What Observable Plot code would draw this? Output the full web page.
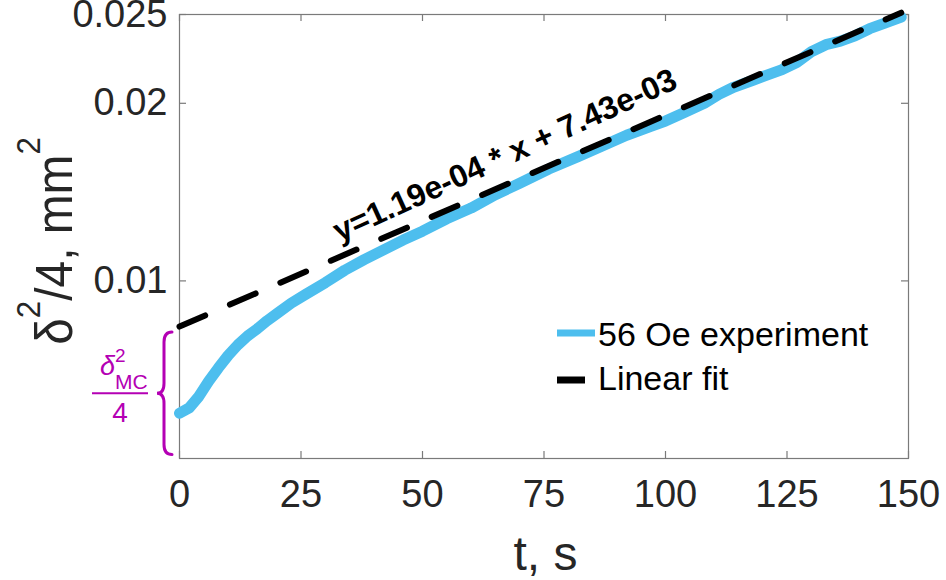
<!DOCTYPE html>
<html>
<head>
<meta charset="utf-8">
<script src="https://cdn.jsdelivr.net/npm/d3@7"></script>
<script src="https://cdn.jsdelivr.net/npm/@observablehq/plot@0.6"></script>
<style>
  html, body { margin: 0; padding: 0; background: #fff; }
</style>
</head>
<body>
<div id="chart"></div>
<script>
// ---- data ----
const tSeconds = [0, 2, 4, 6, 8, 10, 12, 14, 16, 18, 20, 23, 26, 30, 34, 38, 42, 46, 50, 55, 60, 65, 70, 76, 82, 87, 92, 97, 100, 104, 108, 111, 114, 118, 121, 124, 127, 130, 133, 136, 139, 142, 145, 148.5];
const delta2Over4 = [0.00255, 0.00285, 0.0035, 0.00435, 0.0051, 0.0058, 0.0064, 0.0069, 0.0073, 0.00775, 0.00815, 0.00875, 0.00925, 0.0099, 0.0106, 0.0112, 0.01175, 0.0123, 0.0128, 0.0135, 0.0141, 0.01485, 0.0155, 0.0163, 0.0170, 0.0176, 0.0182, 0.0187, 0.0190, 0.0195, 0.0200, 0.0205, 0.0209, 0.0213, 0.0216, 0.0219, 0.0223, 0.0229, 0.0233, 0.0235, 0.0238, 0.0242, 0.0245, 0.02485];
const fitSlope = 1.19e-4;
const fitIntercept = 7.43e-3;
const fitTRange = [0, 148.5];
const xTicks = [0, 25, 50, 75, 100, 125, 150];
const yTicks = [0.01, 0.02, 0.025];
const seriesNames = ["56 Oe experiment", "Linear fit"];
const fitLabel = "y=1.19e-04 * x + 7.43e-03";
const fitLabelT = 32;
const braceRange = [0.0002, 0.0071]; // extent of the δ²MC/4 brace

// ---- derived tables ----
const expData = tSeconds.map((t, i) => ({t, v: delta2Over4[i]}));
const fitData = fitTRange.map(t => ({t, v: fitSlope * t + fitIntercept}));

// ---- layout / style ----
const W = 946, H = 580;
const ML = 179, MR = 38, MT = 14, MB = 122;
const plotW = W - ML - MR, plotH = H - MT - MB;
const blue = "#4DBEEE";
const purple = "#B400B4";
const frameColor = "#7a7a7a";
const textColor = "#262626";
const font = "'Liberation Sans', Arial, Helvetica, sans-serif";

function overlay(index, scales) {
  const g = d3.create("svg:g").attr("font-family", font).attr("text-anchor", "start");

  // y axis label: δ²/4, mm²
  const yl = g.append("text")
    .attr("transform", `translate(72, ${(MT + H - MB) / 2 + 5}) rotate(-90) scale(0.92,1)`)
    .attr("text-anchor", "middle")
    .attr("font-size", 52)
    .attr("fill", textColor);
  yl.append("tspan").text("δ");
  yl.append("tspan").attr("dy", -32).attr("font-size", 34).text("2");
  yl.append("tspan").attr("dy", 32).text("/4, mm");
  yl.append("tspan").attr("dy", -32).attr("font-size", 34).text("2");

  // x axis label
  g.append("text")
    .attr("x", ML + plotW / 2 + 2).attr("y", 570)
    .attr("text-anchor", "middle")
    .attr("font-size", 48)
    .attr("fill", textColor)
    .text("t, s");

  // legend
  const lx0 = 557, lx1b = 595, lx1k = 585, ltx = 598;
  g.append("line").attr("x1", lx0).attr("x2", lx1b).attr("y1", 333).attr("y2", 333)
    .attr("stroke", blue).attr("stroke-width", 7);
  g.append("line").attr("x1", lx0).attr("x2", lx1k).attr("y1", 380).attr("y2", 380)
    .attr("stroke", "#000").attr("stroke-width", 7);
  g.append("text").attr("x", ltx).attr("y", 346).attr("font-size", 34).attr("fill", "#000").text(seriesNames[0]);
  g.append("text").attr("x", ltx).attr("y", 390).attr("font-size", 34).attr("fill", "#000").text(seriesNames[1]);

  // brace spanning δ²MC/4
  const top = scales.y(braceRange[1]), bot = scales.y(braceRange[0]);
  const mid = (top + bot) / 2;
  const xr = 172, xm = 164, xl = 157, r = 10;
  g.append("path")
    .attr("d", `M${xr},${top} Q${xm},${top} ${xm},${top + r} L${xm},${mid - r} Q${xm},${mid} ${xl},${mid} Q${xm},${mid} ${xm},${mid + r} L${xm},${bot - r} Q${xm},${bot} ${xr},${bot}`)
    .attr("fill", "none").attr("stroke", purple).attr("stroke-width", 3).attr("stroke-linecap", "round");

  // fraction  δ²_MC / 4
  g.append("text").attr("x", 100).attr("y", mid - 18).attr("font-size", 27).attr("font-style", "italic")
    .attr("fill", purple).text("δ");
  g.append("text").attr("x", 115).attr("y", mid - 31).attr("font-size", 19).attr("fill", purple).text("2");
  g.append("text").attr("x", 115).attr("y", mid - 4).attr("font-size", 21).attr("fill", purple).text("MC");
  g.append("line").attr("x1", 92).attr("x2", 148).attr("y1", mid).attr("y2", mid)
    .attr("stroke", purple).attr("stroke-width", 2);
  g.append("text").attr("x", 120).attr("y", mid + 29).attr("text-anchor", "middle").attr("font-size", 28)
    .attr("fill", purple).text("4");

  return g.node();
}

const chart = Plot.plot({
  width: W,
  height: H,
  marginLeft: ML,
  marginRight: MR,
  marginTop: MT,
  marginBottom: MB,
  style: {
    fontFamily: font,
    fontSize: "38px",
    color: textColor,
    background: "#fff",
    overflow: "visible"
  },
  x: {domain: [0, 150], ticks: xTicks, tickFormat: d => String(d), tickSize: 0, tickPadding: 22, label: null},
  y: {domain: [0, 0.025], ticks: yTicks, tickFormat: d => String(d), tickSize: 0, tickPadding: 12, label: null},
  marks: [
    Plot.frame({stroke: frameColor, strokeWidth: 1.2}),
    Plot.ruleY(yTicks, {y: d => d, insetRight: plotW - 7, stroke: frameColor, strokeWidth: 1.2}),
    Plot.ruleY(yTicks, {y: d => d, insetLeft: plotW - 7, stroke: frameColor, strokeWidth: 1.2}),
    Plot.ruleX(xTicks, {x: d => d, insetTop: plotH - 7, stroke: frameColor, strokeWidth: 1.2}),
    Plot.ruleX(xTicks, {x: d => d, insetBottom: plotH - 7, stroke: frameColor, strokeWidth: 1.2}),
    Plot.line(expData, {x: "t", y: "v", stroke: blue, strokeWidth: 11, strokeLinejoin: "round", strokeLinecap: "round"}),
    Plot.line(fitData, {x: "t", y: "v", stroke: "#000", strokeWidth: 6, strokeDasharray: "28,27"}),
    Plot.text([fitLabel], {
      x: () => fitLabelT,
      y: () => fitSlope * fitLabelT + fitIntercept,
      text: d => d,
      rotate: -24.5,
      textAnchor: "start",
      fontWeight: "bold",
      fontSize: 32,
      fill: "#000",
      dy: -26
    }),
    overlay
  ]
});

document.getElementById("chart").appendChild(chart);
</script>
</body>
</html>
